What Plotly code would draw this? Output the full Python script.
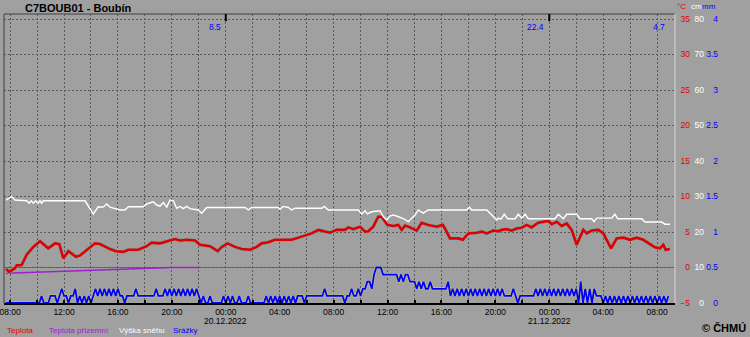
import pandas as pd
import plotly.graph_objects as go

BASE = pd.Timestamp("2022-12-19 08:00")

# --- data (hours after 19.12.2022 08:00) ---
temp_h = [-0.30, -0.06, 0.36, 0.49, 0.86, 1.23, 1.72, 2.22, 2.83, 3.33, 3.65, 3.95, 4.32, 4.89, 5.19,
          5.73, 6.30, 6.67, 7.41, 7.86, 8.40, 8.77, 9.51, 10.13, 10.50, 11.12, 11.49, 12.23, 12.60,
          13.10, 13.72, 14.09, 14.83, 15.40, 15.70, 16.14, 16.68, 17.18, 17.80, 18.29, 18.66, 19.15,
          19.65, 20.89, 21.63, 22.37, 22.86, 23.36, 23.73, 24.23, 24.84, 25.09, 25.46, 25.96, 26.33,
          26.57, 26.94, 27.31, 27.57, 27.98, 28.43, 28.80, 29.05, 29.30, 29.67, 30.16, 30.53, 31.02,
          31.65, 32.09, 32.26, 32.63, 33.25, 33.58, 34.00, 34.62, 34.99, 35.36, 35.85, 36.22, 36.47,
          36.84, 37.21, 37.58, 37.95, 38.32, 38.69, 39.18, 39.55, 39.93, 40.18, 40.55, 40.92, 41.29,
          41.66, 42.03, 42.52, 42.77, 43.14, 43.64, 44.01, 44.58, 45.00, 45.49, 45.99, 46.48, 46.97,
          47.47, 47.84, 48.21, 48.46, 48.63, 48.95]
temp_c = [-0.2, -0.6, -0.1, 0.3, 0.35, 1.8, 2.9, 3.7, 2.7, 3.4, 3.3, 1.3, 2.3, 1.5, 1.7,
          2.5, 3.4, 3.3, 2.6, 2.3, 2.2, 2.5, 2.5, 3.0, 3.5, 3.4, 3.6, 4.0, 3.8,
          3.9, 3.8, 3.2, 3.0, 2.3, 2.9, 3.4, 2.9, 2.6, 2.5, 2.9, 3.4, 3.55,
          3.9, 3.9, 4.35, 4.8, 5.3, 5.05, 4.9, 5.3, 5.3, 5.65, 5.4, 5.75, 5.05,
          5.1, 5.75, 7.15, 7.15, 6.0, 5.85, 6.0, 5.3, 5.9, 5.65, 5.2, 6.3, 6.0,
          5.75, 6.0, 5.5, 4.1, 4.1, 3.9, 4.8, 4.9, 5.05, 4.8, 5.2, 5.1, 5.3,
          5.4, 5.2, 5.5, 5.6, 6.0, 5.65, 6.3, 6.45, 6.55, 6.1, 6.45, 5.85, 6.2,
          5.3, 3.2, 5.3, 4.8, 5.2, 5.3, 4.8, 2.7, 4.1, 4.2, 3.9, 4.2, 3.9,
          3.3, 2.85, 2.7, 3.2, 2.5, 2.6]

ground_h = [-0.30, 4.0, 7.0, 9.6, 12.0, 14.09]
ground_c = [-0.8, -0.5, -0.3, -0.1, 0.0, 0.0]

snow_h = [-0.30, 0.12, 0.36, 1.23, 1.42, 1.57, 1.72, 1.90, 2.07, 2.22, 2.34, 2.46, 5.56, 6.17,
          6.54, 6.91, 7.17, 7.41, 8.15, 8.52, 8.77, 9.88, 10.13, 10.62, 10.88, 11.12, 11.37,
          11.62, 11.86, 12.11, 12.36, 12.60, 12.85, 13.10, 13.35, 13.96, 14.21, 14.58, 17.43,
          17.67, 17.92, 19.90, 20.02, 20.27, 20.64, 20.89, 21.14, 23.12, 23.31, 23.61, 25.83,
          26.08, 26.33, 26.50, 26.82, 27.44, 27.69, 27.94, 28.18, 28.43, 28.80, 29.17, 29.54,
          30.04, 30.28, 30.65, 31.02, 33.87, 34.07, 34.24, 35.36, 35.85, 36.10, 36.22, 36.42,
          36.66, 36.91, 37.46, 37.70, 37.95, 38.20, 38.44, 40.42, 40.67, 41.04, 41.29, 42.03,
          42.28, 43.14, 43.32, 43.52, 44.63, 44.87, 45.07, 46.85, 47.10, 48.34, 48.58, 48.95]
snow_cm = [29.0, 30.0, 29.0, 28.8, 28.1, 28.8, 28.1, 28.8, 28.1, 28.8, 28.1, 28.8, 28.8, 25.1,
           27.1, 27.0, 27.9, 27.0, 26.2, 26.2, 27.1, 27.1, 27.9, 28.5, 27.6, 27.3, 28.3,
           27.0, 29.0, 28.8, 26.7, 27.2, 26.6, 27.2, 26.6, 26.2, 25.3, 26.9, 26.9,
           26.2, 26.9, 26.9, 26.4, 27.2, 26.9, 26.2, 26.7, 26.7, 27.2, 26.2, 26.2,
           25.1, 26.0, 25.1, 25.7, 26.0, 24.3, 23.4, 24.5, 24.8, 24.3, 23.8, 22.9,
           24.8, 26.2, 25.3, 26.2, 26.2, 27.0, 26.2, 26.2, 24.3, 23.4, 23.9, 23.6,
           25.0, 23.75, 23.75, 25.0, 23.9, 25.0, 23.75, 23.75, 25.0, 23.75, 25.0, 25.0,
           23.75, 23.75, 22.9, 23.9, 23.9, 25.0, 23.75, 23.75, 22.8, 22.8, 22.2, 22.2]

# 10-minute precipitation (mm), first value at 19.12.2022 07:40
precip_first_step = -2
precip_mm = [
    0, 0, 0, 0, 0, 0, 0, 0, 0, 0, 0, 0, 0, 0, 0, 0,
    0.1, 0, 0, 0, 0.1, 0.1, 0.1, 0, 0.1, 0.2, 0.1, 0.1, 0, 0.1, 0.1, 0.2, 0,
    0.1, 0, 0.1, 0, 0.1, 0, 0.1,
    0.2, 0.1, 0.2, 0.1, 0.2, 0.1, 0.2, 0.1, 0.2, 0.1, 0.2, 0.1,
    0.1, 0, 0.1, 0.1, 0.1, 0.1, 0.2, 0.1, 0.1, 0.1, 0.1, 0.1, 0.1, 0.1, 0.1, 0.2, 0.1, 0.1, 0.1,
    0.2, 0.1, 0.2, 0.1, 0.2, 0.1, 0.2, 0.1, 0.2, 0.1, 0.2, 0.1, 0.2, 0.1, 0.2,
    0.1, 0, 0.1, 0, 0, 0.1, 0, 0, 0, 0, 0, 0.1, 0, 0.1, 0, 0.1, 0, 0, 0.1, 0, 0, 0, 0.1,
    0, 0, 0, 0, 0, 0,
    0, 0.1, 0, 0.1, 0, 0.1, 0, 0.1, 0, 0.1, 0, 0.1, 0, 0.1, 0, 0.1,
    0.1, 0.1, 0, 0.1, 0.1, 0.1, 0.1, 0.1, 0.1, 0.1, 0.1, 0.2, 0.1, 0.1, 0.1, 0.1, 0.1, 0.1, 0.1, 0.1, 0,
    0.1, 0.1, 0.2, 0.1, 0.1, 0.2, 0.1, 0.2, 0.2, 0.3, 0.3, 0.2, 0.4, 0.5, 0.5, 0.5,
    0.4, 0.4, 0.4, 0.4, 0.4, 0.4, 0.4,
    0.3, 0.4, 0.3, 0.4, 0.4, 0.3, 0.3, 0.3, 0.2, 0.3, 0.2, 0.3, 0.2, 0.2, 0.3, 0.2,
    0.2, 0.2, 0.2, 0.2, 0.2, 0.2, 0.3, 0.1,
    0.2, 0.1, 0.2, 0.1, 0.2, 0.1, 0.2, 0.1, 0.2, 0.1, 0.2, 0.1,
    0.2, 0.1, 0.2, 0.1, 0.2, 0.1, 0.2, 0.1, 0.2, 0.1, 0.2, 0.1,
    0.1, 0.1, 0.1, 0.2, 0.1, 0, 0.1, 0.1, 0.1, 0.1, 0.1, 0.1, 0.1, 0.2, 0.1, 0.2, 0.1, 0.2, 0.1,
    0.2, 0.1, 0.2, 0.1, 0.2, 0.1, 0.2, 0.1, 0.2, 0.1, 0.2, 0.1,
    0.2, 0, 0.3, 0, 0.2, 0, 0.2, 0, 0.2,
    0.1, 0.1, 0.1,
    0, 0.1, 0, 0.1, 0, 0.1, 0, 0.1, 0, 0.1, 0, 0.1, 0, 0.1, 0, 0.1,
    0, 0.1, 0, 0.1, 0, 0.1, 0, 0.1, 0, 0.1, 0, 0.1, 0, 0.1,
]

day_sum_labels = ["8.5", "22.4", "4.7"]
day_sum_end_h = [16.0, 40.0, 48.95]
midnight_h = [16.0, 40.0]
date_labels = ["20.12.2022", "21.12.2022"]

temp_ticks = [-5, 0, 5, 10, 15, 20, 25, 30, 35]
snow_ticks = [0, 10, 20, 30, 40, 50, 60, 70, 80]
precip_ticks = [0, 0.5, 1, 1.5, 2, 2.5, 3, 3.5, 4]
precip_tick_text = ["0", "0.5", "1", "1.5", "2", "2.5", "3", "3.5", "4"]

legend_names = ["Teplota", "Teplota přízemní", "Výška sněhu", "Srážky"]

# --- helpers ---
def t(h):
    return BASE + pd.to_timedelta(h, unit="h")

def ts(hs):
    return [t(h) for h in hs]

precip_t = [BASE + pd.Timedelta(minutes=10 * (precip_first_step + k)) for k in range(len(precip_mm))]

# --- style / geometry ---
W, H = 750, 337
ML, MR, MT, MB = 4, 20, 14, 34
PAPER_W = W - ML - MR
PAPER_H = H - MT - MB
PLOT_RIGHT = 675
def px(x):
    return (x - ML) / PAPER_W
def py(y):
    return (H - MB - y) / PAPER_H

BG = "#a0a0a0"
FONT = "Liberation Sans, Arial, sans-serif"
RED = "#e00000"
PURPLE = "#a020d0"
WHITE = "#ffffff"
BLUE = "#0000ff"

T_MIN = -5
T_MAX = 35 + 5 / 7.1
SNOW_MAX = (T_MAX + 5) * 2
MM_MAX = (T_MAX + 5) / 10

fig = go.Figure()

# precipitation (mm)
fig.add_trace(go.Scatter(x=precip_t, y=precip_mm, yaxis="y4", mode="lines",
                         line=dict(color="#c4c47c", width=3.0), hoverinfo="skip", showlegend=False))
fig.add_trace(go.Scatter(x=precip_t, y=precip_mm, yaxis="y4", mode="lines", name=legend_names[3],
                         line=dict(color=BLUE, width=1.8), showlegend=False))
# snow depth (cm)
fig.add_trace(go.Scatter(x=ts(snow_h), y=snow_cm, yaxis="y3", mode="lines", name=legend_names[2],
                         line=dict(color=WHITE, width=1.4), showlegend=False))
# ground temperature
fig.add_trace(go.Scatter(x=ts(ground_h), y=ground_c, yaxis="y", mode="lines", name=legend_names[1],
                         line=dict(color=PURPLE, width=1.5), showlegend=False))
# air temperature
fig.add_trace(go.Scatter(x=ts(temp_h), y=temp_c, yaxis="y2", mode="lines",
                         line=dict(color="#78a8a8", width=3.8), hoverinfo="skip", showlegend=False))
fig.add_trace(go.Scatter(x=ts(temp_h), y=temp_c, yaxis="y2", mode="lines", name=legend_names[0],
                         line=dict(color=RED, width=2.6), showlegend=False))

tick_h = list(range(0, 50, 2))
tick_text = []
for h in tick_h:
    tt = t(h)
    tick_text.append(tt.strftime("%H:%M") if h % 4 == 0 else "")

x_range = [t((ML - 10.1) / 13.48), t((PLOT_RIGHT - 10.1) / 13.48)]

GRID = dict(showgrid=True, gridcolor="#5a5a5a", gridwidth=1, griddash="2px,2px")
TICKSIZE = 8.5

fig.update_layout(
    width=W, height=H,
    margin=dict(l=ML, r=MR, t=MT, b=MB, pad=0, autoexpand=False),
    paper_bgcolor=BG, plot_bgcolor=BG,
    font=dict(family=FONT, size=TICKSIZE, color="black"),
    showlegend=False,
    xaxis=dict(domain=[0, px(PLOT_RIGHT)], range=x_range, type="date",
               tickvals=ts(tick_h), ticktext=tick_text, ticks="inside", ticklen=3,
               tickcolor="black", tickwidth=1.5, showline=True, linecolor="black", linewidth=1.5,
               ticklabeloverflow="allow", automargin=False,
               tickfont=dict(size=TICKSIZE, color="black"), zeroline=False, **GRID),
    yaxis=dict(range=[T_MIN, T_MAX], tickvals=temp_ticks, showticklabels=False, zeroline=False,
               showline=False, ticks="", automargin=False, **GRID),
    yaxis2=dict(overlaying="y", anchor="free", position=px(690), side="left", range=[T_MIN, T_MAX],
                tickvals=temp_ticks, ticks="", showgrid=False, zeroline=False, showline=False,
                automargin=False, tickfont=dict(size=TICKSIZE, color=RED)),
    yaxis3=dict(overlaying="y", anchor="free", position=px(704), side="left", range=[0, SNOW_MAX],
                tickvals=snow_ticks, ticks="", showgrid=False, zeroline=False, showline=False,
                automargin=False, tickfont=dict(size=TICKSIZE, color=WHITE)),
    yaxis4=dict(overlaying="y", anchor="free", position=px(718), side="left", range=[0, MM_MAX],
                tickvals=precip_ticks, ticktext=precip_tick_text, ticks="", showgrid=False,
                zeroline=False, showline=False, automargin=False,
                tickfont=dict(size=TICKSIZE, color=BLUE)),
    title=dict(text="C7BOUB01 - Boubín", xref="container", yref="container",
               x=25 / W, y=1 - 8 / H, xanchor="left", yanchor="middle",
               font=dict(family=FONT, size=11, color="black", weight="bold")),
)

shapes = []
# frame
shapes.append(dict(type="line", xref="x domain", yref="y domain", x0=0, x1=1, y0=1, y1=1,
                   line=dict(color="#404040", width=1)))
shapes.append(dict(type="line", xref="x domain", yref="y domain", x0=0, x1=0, y0=0, y1=1,
                   line=dict(color="#404040", width=1)))
shapes.append(dict(type="line", xref="x domain", yref="y domain", x0=1, x1=1, y0=0, y1=1,
                   line=dict(color="#d8d8d8", width=1)))
# 0 degC line
shapes.append(dict(type="line", xref="x domain", yref="y", x0=0, x1=1, y0=0, y1=0,
                   line=dict(color="#2f962f", width=1), layer="below"))
# day markers at top
for h in midnight_h:
    shapes.append(dict(type="line", xref="x", yref="y domain", x0=t(h), x1=t(h), y0=1, y1=0.975,
                       line=dict(color="black", width=2)))
fig.update_layout(shapes=shapes)

ann = []
for lab, h in zip(day_sum_labels, day_sum_end_h):
    ann.append(dict(text=lab, x=t(h), xref="x", y=py(27), yref="paper", xanchor="right",
                    yanchor="middle", xshift=-3, showarrow=False, font=dict(size=TICKSIZE, color=BLUE)))
for lab, h in zip(date_labels, midnight_h):
    ann.append(dict(text=lab, x=t(h), xref="x", y=py(321), yref="paper", xanchor="center",
                    yanchor="middle", showarrow=False, font=dict(size=TICKSIZE, color="black")))
legend_x = [5, 47, 117, 171]
legend_col = [RED, PURPLE, WHITE, BLUE]
for name, lx, c in zip(legend_names, legend_x, legend_col):
    ann.append(dict(text=name, x=px(lx), xref="paper", y=py(330), yref="paper", xanchor="left",
                    yanchor="middle", showarrow=False, font=dict(size=8, color=c)))
for txt, rx, c in zip(["°C", "cm", "mm"], [688, 704, 718], [RED, WHITE, BLUE]):
    ann.append(dict(text=txt, x=px(rx), xref="paper", y=py(6), yref="paper", xanchor="right",
                    yanchor="middle", showarrow=False, font=dict(size=8, color=c)))
ann.append(dict(text="© ČHMÚ", x=px(748), xref="paper", y=py(328), yref="paper", xanchor="right",
                yanchor="middle", showarrow=False,
                font=dict(size=11, color="black", weight="bold")))
fig.update_layout(annotations=ann)

fig.write_html("out.html")
